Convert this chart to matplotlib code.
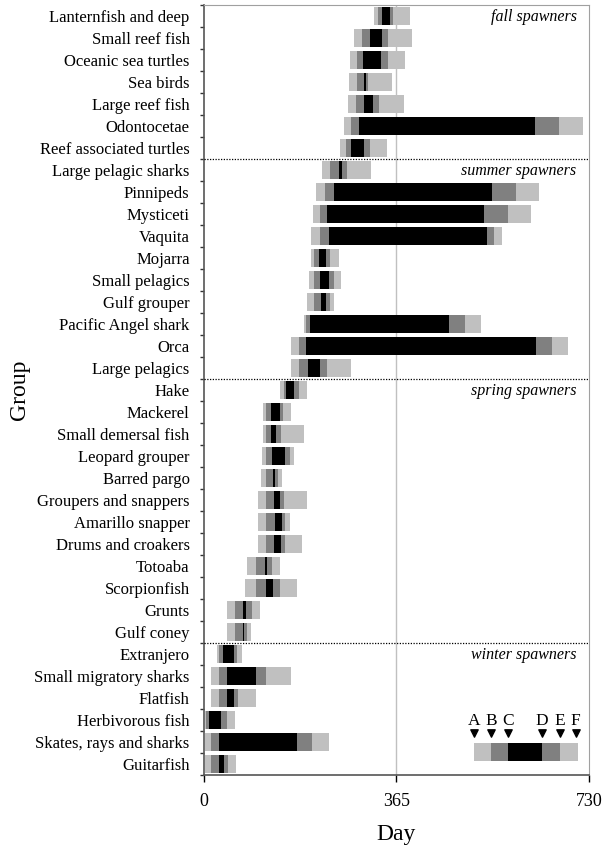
import numpy as np
import matplotlib.pyplot as plt

plt.rcParams['font.family'] = ['Liberation Serif', 'DejaVu Serif']

groups = ['Lanternfish and deep', 'Small reef fish', 'Oceanic sea turtles', 'Sea birds',
          'Large reef fish', 'Odontocetae', 'Reef associated turtles',
          'Large pelagic sharks', 'Pinnipeds', 'Mysticeti', 'Vaquita', 'Mojarra',
          'Small pelagics', 'Gulf grouper', 'Pacific Angel shark', 'Orca', 'Large pelagics',
          'Hake', 'Mackerel', 'Small demersal fish', 'Leopard grouper', 'Barred pargo',
          'Groupers and snappers', 'Amarillo snapper', 'Drums and croakers', 'Totoaba',
          'Scorpionfish', 'Grunts', 'Gulf coney',
          'Extranjero', 'Small migratory sharks', 'Flatfish', 'Herbivorous fish',
          'Skates, rays and sharks', 'Guitarfish']

# day of year for points A..F of each group
A = [322, 284, 277, 275, 273, 265, 258,
     225, 212, 208, 203, 203, 199, 195, 190, 165, 165,
     144, 112, 112, 110, 108, 104, 104, 104, 83, 78, 45, 45,
     25, 15, 15, 2, 2, 2]
B = [330, 299, 290, 290, 288, 280, 269,
     239, 229, 220, 220, 210, 210, 210, 193, 180, 180,
     152, 119, 119, 119, 119, 119, 119, 119, 99, 99, 59, 59,
     30, 30, 30, 4, 15, 15]
C = [337, 315, 301, 303, 303, 294, 280,
     256, 246, 233, 237, 218, 220, 222, 201, 193, 197,
     157, 127, 127, 129, 131, 133, 135, 133, 116, 119, 74, 74,
     36, 45, 45, 10, 30, 30]
D = [352, 337, 335, 307, 320, 627, 303,
     263, 546, 531, 536, 231, 237, 231, 464, 629, 220,
     172, 144, 138, 155, 136, 144, 148, 146, 121, 131, 80, 76,
     57, 99, 57, 34, 176, 38]
E = [358, 349, 349, 311, 333, 673, 315,
     271, 591, 576, 549, 239, 246, 239, 495, 659, 233,
     180, 150, 146, 163, 140, 152, 155, 155, 129, 144, 91, 82,
     64, 119, 66, 44, 205, 46]
F = [390, 394, 381, 356, 379, 718, 347,
     316, 635, 620, 565, 256, 261, 246, 525, 690, 279,
     195, 165, 191, 171, 148, 195, 163, 186, 144, 176, 106, 89,
     72, 165, 99, 59, 237, 61]

seasons = ['fall spawners', 'summer spawners', 'spring spawners', 'winter spawners']
season_sizes = [7, 10, 12, 6]

# example bar for the key
key_points = [512, 544, 576, 640, 674, 708]
key_letters = ['A', 'B', 'C', 'D', 'E', 'F']

light = '#c0c0c0'
dark = '#808080'
seg_colors = [light, dark, 'black', dark, light]

fig = plt.figure(figsize=(6.05, 8.5), dpi=100)
ax = fig.add_axes([0.3364, 0.0882, 0.974 - 0.3364, 0.9941 - 0.0882])

y = np.arange(len(groups))
pts = np.array([A, B, C, D, E, F])
ax.axvline(365, color=light, lw=1, zorder=0)
for k in range(5):
    ax.barh(y, pts[k + 1] - pts[k], left=pts[k], height=0.82,
            color=seg_colors[k], edgecolor='none', zorder=2)

# season separators and labels
start = 0
for name, n in zip(seasons, season_sizes):
    ax.text(706, start + 0.05, name, style='italic', fontsize=11.5,
            ha='right', va='center', zorder=3)
    start += n
    if start < len(groups):
        ax.axhline(start - 0.5, color='black', lw=0.9, ls=(0, (1, 1.2)), zorder=3)

# key
key = np.array(key_points)
ax.barh([33.45], key[1:] - key[:-1], left=key[:-1], height=0.82,
        color=seg_colors, edgecolor='none', zorder=2)
tri_x = key.astype(float)
tri_x[-1] -= 4
ax.scatter(tri_x, [32.6] * 6, marker='v', s=28, color='black', zorder=3)
for xx, lab in zip(tri_x, key_letters):
    ax.text(xx, 32.05, lab, ha='center', va='center', fontsize=12.5)

ax.set_xlim(0, 730)
ax.set_ylim(len(groups) - 0.5, -0.5)
ax.set_xticks([0, 365, 730])
ax.set_xticklabels(['0', '365', '730'], fontsize=13)
ax.set_yticks(y)
ax.set_yticklabels(groups, fontsize=12)
ax.set_yticks(np.arange(len(groups) + 1) - 0.5, minor=True)
ax.tick_params(axis='y', which='major', length=0, pad=10)
ax.tick_params(axis='y', which='minor', length=3, width=1, color='#333333')
ax.tick_params(axis='x', length=5, width=1, direction='out', pad=8)

ax.spines['left'].set_color('#555555')
ax.spines['bottom'].set_color('#555555')
ax.spines['left'].set_linewidth(1.2)
ax.spines['bottom'].set_linewidth(1.2)
ax.spines['top'].set_color('#a0a0a0')
ax.spines['right'].set_color('#a0a0a0')

ax.set_xlabel('Day', fontsize=17, labelpad=10)
ax.set_ylabel('Group', fontsize=17, labelpad=3)

fig.savefig('out.png', dpi=100)
